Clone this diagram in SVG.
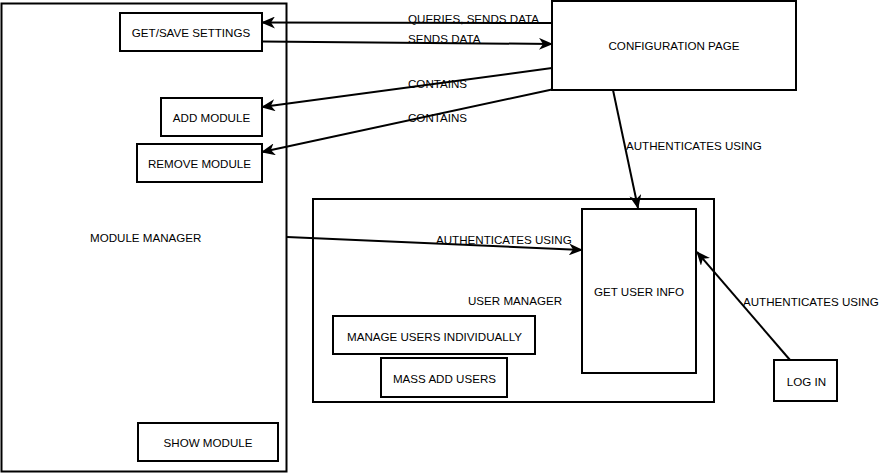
<svg xmlns="http://www.w3.org/2000/svg" width="882" height="473" viewBox="0 0 882 473">
<style>
.box{fill:#fff;stroke:#000;stroke-width:2}
.t{font-family:"Liberation Sans",Arial,sans-serif;font-size:11.6px;fill:#000}
.m{text-anchor:middle}
.c{stroke:#000;stroke-width:2;fill:none;marker-end:url(#ah)}
</style>
<defs>
<marker id="ah" markerUnits="userSpaceOnUse" viewBox="0 0 14 12" refX="13" refY="6" markerWidth="14" markerHeight="12" orient="auto">
<path d="M0,0 L14,6 L0,12 L4,6 z" fill="#000"/>
</marker>
</defs>
<rect width="882" height="473" fill="#fff"/>
<g id="module-manager">
<rect class="box" x="1.5" y="3.5" width="285" height="468"/>
<text class="t" x="90" y="242">MODULE MANAGER</text>
</g>
<g id="get-save-settings">
<rect class="box" x="120" y="13" width="142" height="38"/>
<text class="t m" x="191" y="37">GET/SAVE SETTINGS</text>
</g>
<g id="add-module">
<rect class="box" x="161" y="98" width="101" height="38"/>
<text class="t m" x="211.5" y="122">ADD MODULE</text>
</g>
<g id="remove-module">
<rect class="box" x="137" y="144" width="125" height="38"/>
<text class="t m" x="199.5" y="168">REMOVE MODULE</text>
</g>
<g id="show-module">
<rect class="box" x="138" y="423" width="140" height="38"/>
<text class="t m" x="208" y="447">SHOW MODULE</text>
</g>
<g id="configuration-page">
<rect class="box" x="552" y="1" width="244" height="89"/>
<text class="t m" x="674" y="50">CONFIGURATION PAGE</text>
</g>
<g id="user-manager">
<rect class="box" x="313" y="199" width="401" height="203"/>
<text class="t" x="468" y="305">USER MANAGER</text>
</g>
<g id="get-user-info">
<rect class="box" x="582" y="209" width="114" height="164"/>
<text class="t m" x="639" y="296">GET USER INFO</text>
</g>
<g id="manage-users-individually">
<rect class="box" x="333" y="316" width="202" height="38"/>
<text class="t m" x="434.5" y="341">MANAGE USERS INDIVIDUALLY</text>
</g>
<g id="mass-add-users">
<rect class="box" x="381" y="358" width="126" height="39"/>
<text class="t m" x="444.5" y="383">MASS ADD USERS</text>
</g>
<g id="log-in">
<rect class="box" x="774" y="360" width="63" height="41"/>
<text class="t m" x="806.5" y="385.5">LOG IN</text>
</g>
<g id="connectors">
<line class="c" x1="552" y1="23" x2="262" y2="22.5"/>
<line class="c" x1="262" y1="41.5" x2="552" y2="44"/>
<line class="c" x1="552" y1="68" x2="262" y2="107"/>
<line class="c" x1="552" y1="89.5" x2="262" y2="152"/>
<line class="c" x1="613" y1="90" x2="638" y2="208"/>
<line class="c" x1="287" y1="237" x2="582" y2="250"/>
<line class="c" x1="790" y1="360" x2="697" y2="252"/>
<text class="t" x="408" y="23">QUERIES, SENDS DATA</text>
<text class="t" x="408" y="43">SENDS DATA</text>
<text class="t" x="408" y="88">CONTAINS</text>
<text class="t" x="408" y="122">CONTAINS</text>
<text class="t" x="626" y="150">AUTHENTICATES USING</text>
<text class="t" x="436" y="244">AUTHENTICATES USING</text>
<text class="t" x="743" y="306">AUTHENTICATES USING</text>
</g>
</svg>
